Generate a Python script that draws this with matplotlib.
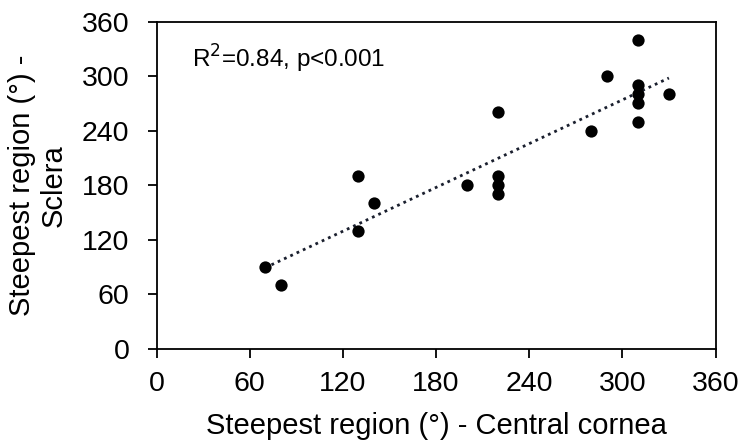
import matplotlib
matplotlib.use("Agg")
import matplotlib.pyplot as plt
import numpy as np

plt.rcParams['font.family'] = ['Liberation Sans', 'DejaVu Sans']

central_cornea = [70, 80, 130, 130, 140, 200, 220, 220, 220, 220, 280, 290, 310, 310, 310, 310, 310, 330]
sclera = [90, 70, 190, 130, 160, 180, 260, 190, 180, 170, 240, 300, 340, 290, 280, 270, 250, 280]
ticks = [0, 60, 120, 180, 240, 300, 360]

fig = plt.figure(figsize=(7.42, 4.44), dpi=100)
ax = fig.add_axes([156.5/742, 1 - 349/444, (715.5-156.5)/742, (349-21.5)/444])

x = np.array(central_cornea, dtype=float)
y = np.array(sclera, dtype=float)
m, b = np.polyfit(x, y, 1)
xs = np.array([x.min(), x.max()])
ax.plot(xs, m*xs + b, linestyle=(0, (1, 1.5)), color='#1a1f2e', linewidth=2.0, zorder=2)
ax.scatter(x, y, s=78, color='black', zorder=3, linewidths=0)

ax.set_xlim(0, 360)
ax.set_ylim(0, 360)
ax.set_xticks(ticks)
ax.set_yticks(ticks)
ax.tick_params(direction='out', length=6.5, width=1.3, labelsize=20.5, colors='black')
ax.tick_params(axis='x', top=False, pad=9)
ax.tick_params(axis='y', right=False, pad=13)
for s in ax.spines.values():
    s.set_linewidth(1.3)
    s.set_color('black')

ax.set_xlabel('Steepest region (°) - Central cornea', fontsize=21, labelpad=11)
ax.set_ylabel('Steepest region (°) -\nSclera', fontsize=21, labelpad=10, linespacing=1.2)
ax.text(0.063, 0.887, 'R$^{2}$=0.84, p<0.001', transform=ax.transAxes, fontsize=17.5,
        va='center', ha='left')

fig.savefig('out.png', dpi=100)
